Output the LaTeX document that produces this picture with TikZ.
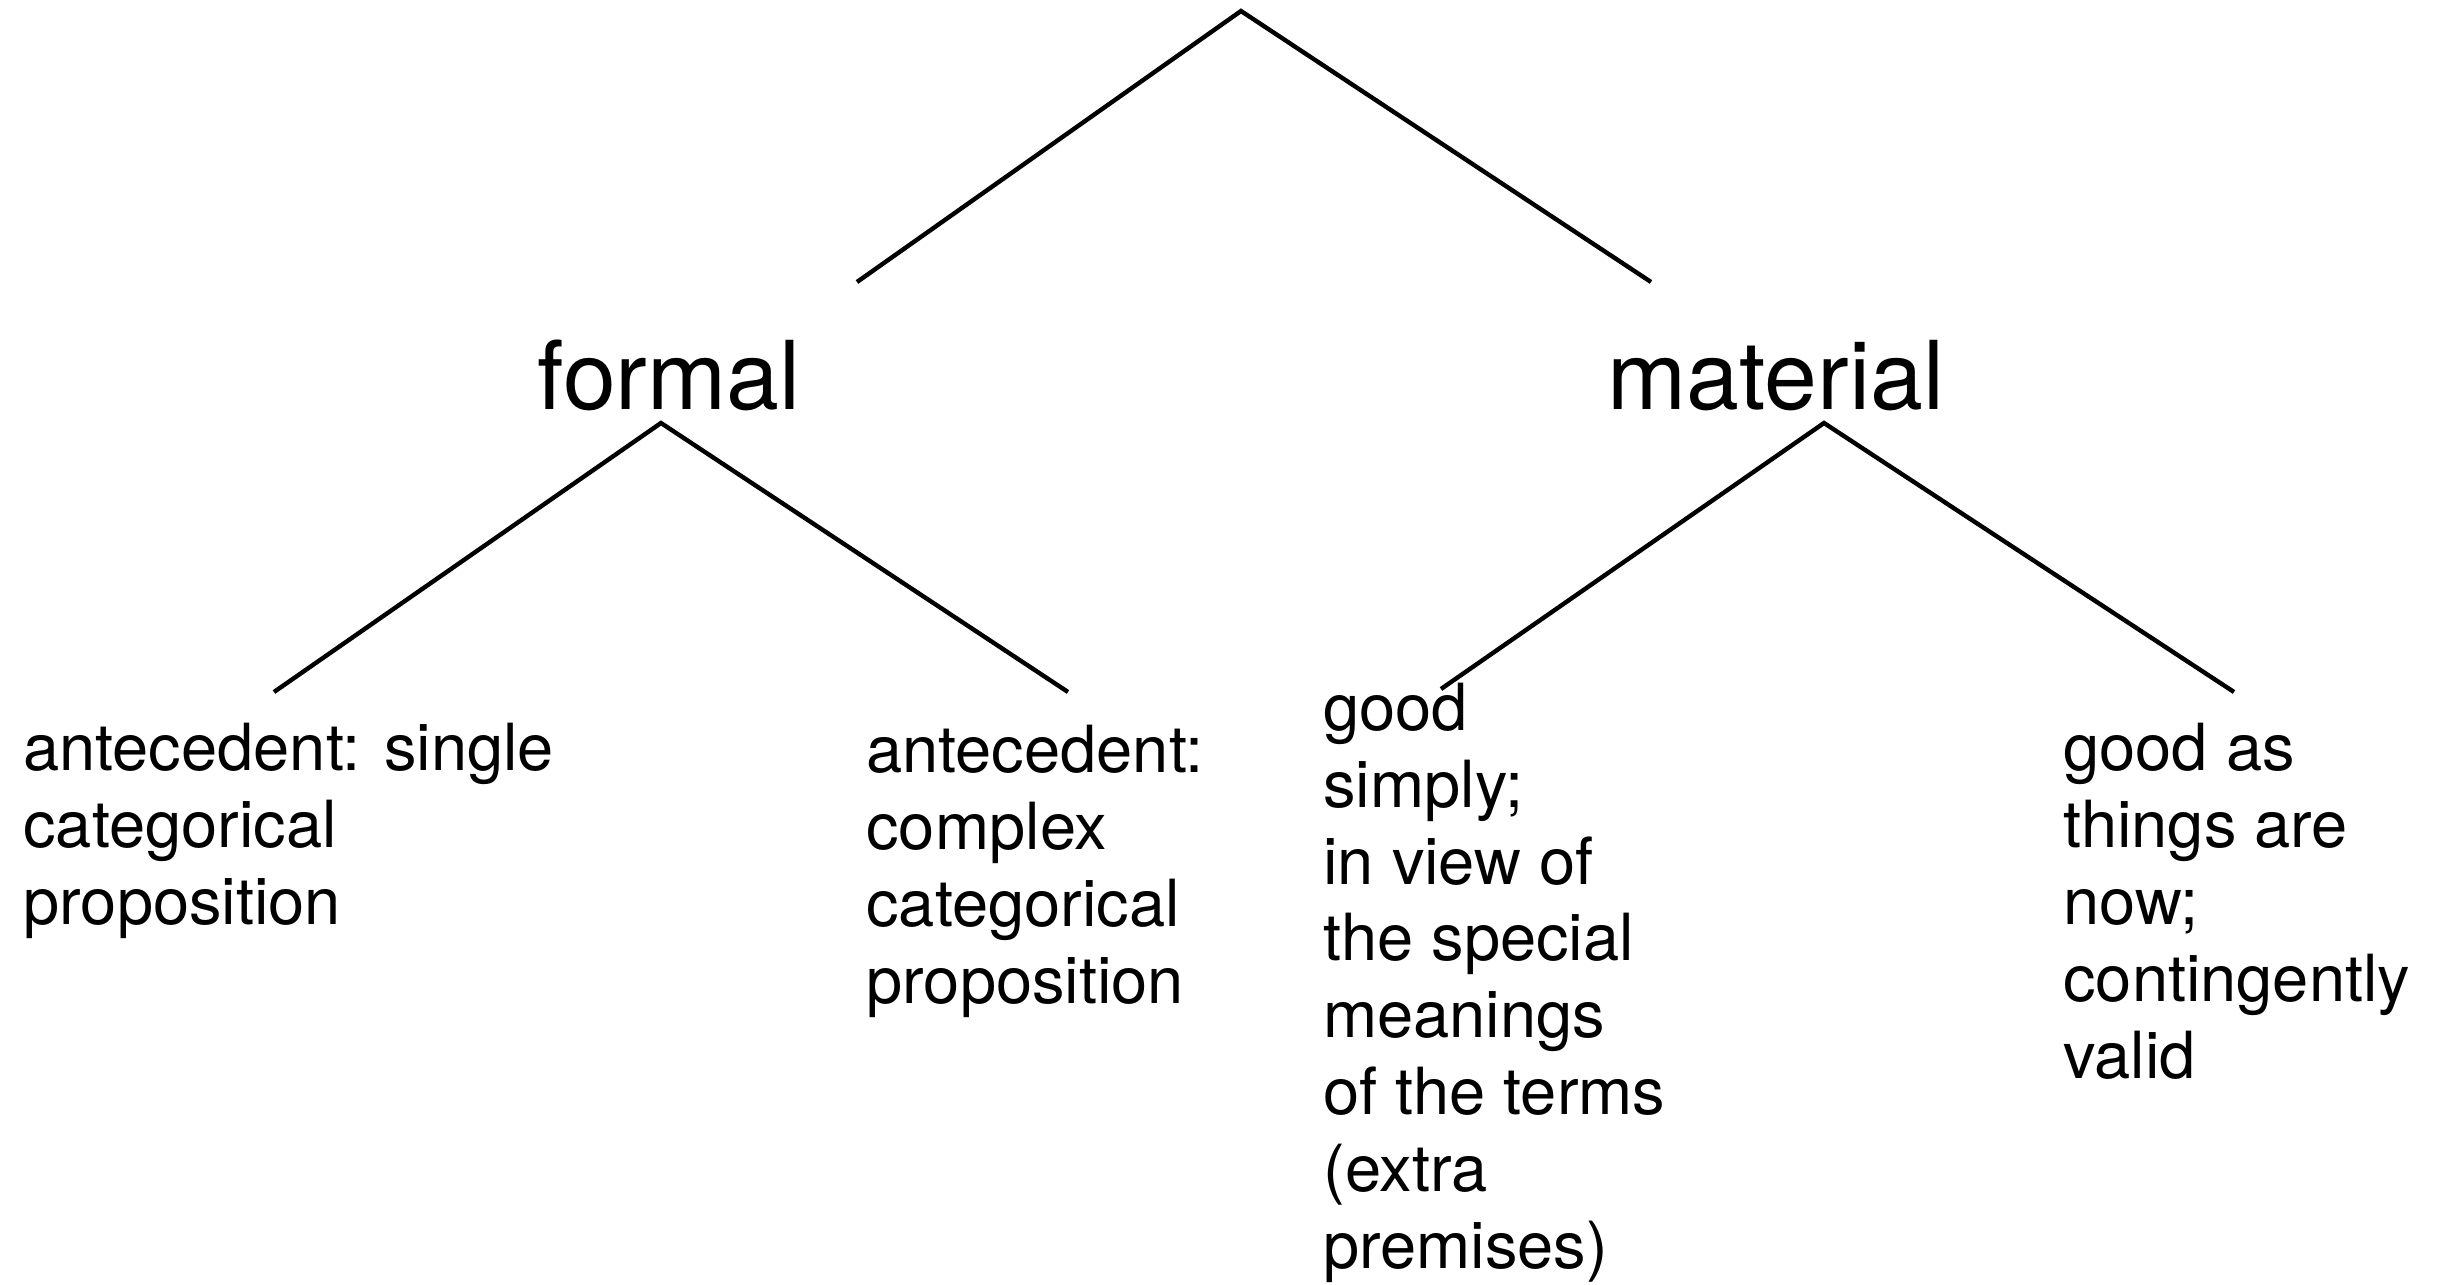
\documentclass[tikz,border=0pt]{standalone}
\usepackage{fontspec}
\setmainfont{TeX Gyre Heros}
\begin{document}
\begin{tikzpicture}[x=0.5pt,y=-0.5pt,
  edge/.style={line width=2.2pt},
  big/.style={font=\fontsize{47.5}{57}\selectfont, inner sep=0, anchor=base},
  leaf/.style={font=\fontsize{32.5}{38.4}\selectfont, inner sep=0, align=left, anchor=base west}]
\useasboundingbox (0,0) rectangle (2438,1285);
% labels (anchor = baseline of the last line)
\node[big] (formal) at (669,409) {formal};
\node[big] (material) at (1776,409) {material};
\node[leaf] (l1) at (23,924) {antecedent: single\\categorical\\proposition};
\node[leaf] (l2) at (866,1003) {antecedent:\\complex\\categorical\\proposition};
\node[leaf] (l3) at (1323,1268) {good\\simply;\\in view of\\the special\\meanings\\of the terms\\(extra\\premises)};
\node[leaf] (l4) at (2063,1078) {good as\\things are\\now;\\contingently\\valid};
% connector points
\coordinate (root) at (1241,11);
\coordinate (rootL) at (857,282);
\coordinate (rootR) at (1651,282);
\coordinate (fTop) at (661,423);
\coordinate (fL) at (274,692);
\coordinate (fR) at (1068,692);
\coordinate (mTop) at (1824,423);
\coordinate (mL) at (1441,689);
\coordinate (mR) at (2234,692);
\draw[edge] (rootL) -- (root) -- (rootR);
\draw[edge] (fL) -- (fTop) -- (fR);
\draw[edge] (mL) -- (mTop) -- (mR);
\end{tikzpicture}
\end{document}
